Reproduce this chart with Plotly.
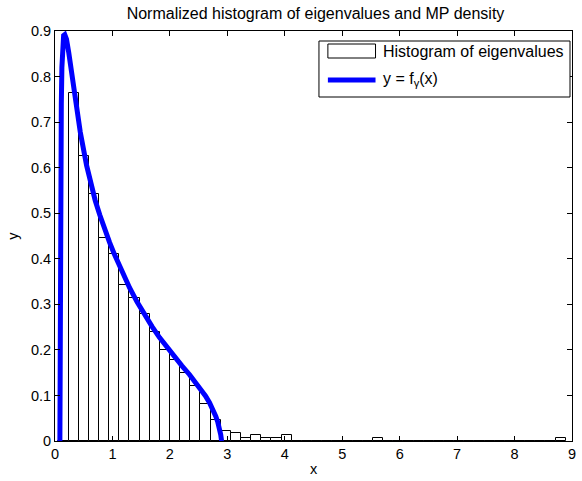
import plotly.graph_objects as go

# ---- data ----
bin_start = 0.06          # left edge of first histogram bin
bin_width = 0.1766        # width of each bin (50 bins)
hist_heights = [
    0.0, 0.763, 0.626, 0.542, 0.445, 0.410, 0.342, 0.313, 0.278, 0.239,
    0.199, 0.177, 0.149, 0.120, 0.081, 0.047, 0.023, 0.018, 0.006, 0.0125,
    0.006, 0.006, 0.0125, 0.0, 0.0, 0.0, 0.0, 0.0, 0.0, 0.0,
    0.0, 0.006, 0.0, 0.0, 0.0, 0.0, 0.0, 0.0, 0.0, 0.0,
    0.0, 0.0, 0.0, 0.0, 0.0, 0.0, 0.0, 0.0, 0.0, 0.006,
]
bin_centers = [bin_start + bin_width * (i + 0.5) for i in range(len(hist_heights))]

mp_x = [0.085, 0.088, 0.093, 0.100, 0.110, 0.120, 0.135, 0.150, 0.170, 0.200,
        0.240, 0.300, 0.350, 0.440, 0.550, 0.620, 0.700, 0.780, 0.850, 0.950,
        1.040, 1.170, 1.300, 1.430, 1.560, 1.690, 1.820, 1.950, 2.080, 2.210,
        2.340, 2.450, 2.540, 2.620, 2.690, 2.750, 2.800, 2.835, 2.865, 2.885,
        2.900]
mp_y = [0.000, 0.200, 0.400, 0.600, 0.740, 0.820, 0.870, 0.890, 0.892, 0.882,
        0.852, 0.795, 0.752, 0.678, 0.605, 0.567, 0.528, 0.496, 0.470, 0.436,
        0.408, 0.370, 0.336, 0.305, 0.277, 0.251, 0.227, 0.205, 0.184, 0.165,
        0.146, 0.129, 0.114, 0.099, 0.084, 0.069, 0.054, 0.041, 0.027, 0.014,
        0.000]

x_ticks = [0, 1, 2, 3, 4, 5, 6, 7, 8, 9]
y_ticks = [0, 0.1, 0.2, 0.3, 0.4, 0.5, 0.6, 0.7, 0.8, 0.9]

title_text = "Normalized histogram of eigenvalues and MP density"
legend_labels = ["Histogram of eigenvalues", "y = f<sub>γ</sub>(x)"]

FONT = "Liberation Sans, Arial, Helvetica, sans-serif"
W, H = 582, 481
L, R, T, B = 55, 6, 31, 40

fig = go.Figure()
fig.add_trace(go.Bar(
    x=bin_centers, y=hist_heights, width=bin_width,
    marker=dict(color="white", line=dict(color="black", width=1)),
    showlegend=False,
))
fig.add_trace(go.Scatter(
    x=mp_x, y=mp_y, mode="lines",
    line=dict(color="#0000ff", width=5),
    showlegend=False,
))

axis_common = dict(
    showline=True, linecolor="black", linewidth=1, mirror="allticks",
    ticks="inside", ticklen=5, tickcolor="black", tickwidth=1,
    showgrid=False, zeroline=False,
    tickfont=dict(family=FONT, size=14.5, color="black"),
)
fig.update_xaxes(range=[0, 9], tickvals=x_ticks,
                 title=dict(text="x", font=dict(family=FONT, size=14.5, color="black"), standoff=2),
                 **axis_common)
fig.update_yaxes(range=[0, 0.9], tickvals=y_ticks,
                 title=dict(text="y", font=dict(family=FONT, size=14.5, color="black"), standoff=8),
                 **axis_common)

pw, ph = W - L - R, H - T - B
def px(xp):
    return (xp - L) / pw
def py(yp):
    return (H - B - yp) / ph

# manual MATLAB-style legend
shapes = [
    dict(type="rect", xref="paper", yref="paper", x0=px(321), x1=px(574), y0=py(97), y1=py(41),
         line=dict(color="black", width=1), fillcolor="white", layer="above"),
    dict(type="rect", xref="paper", yref="paper", x0=px(330), x1=px(378), y0=py(58), y1=py(44),
         line=dict(color="black", width=1), fillcolor="white", layer="above"),
    dict(type="line", xref="paper", yref="paper", x0=px(330), x1=px(378), y0=py(80), y1=py(80),
         line=dict(color="#0000ff", width=5), layer="above"),
]
annotations = [
    dict(text=legend_labels[0], xref="paper", yref="paper", x=px(384), y=py(51),
         xanchor="left", yanchor="middle", showarrow=False,
         font=dict(family=FONT, size=16, color="black")),
    dict(text=legend_labels[1], xref="paper", yref="paper", x=px(384), y=py(79),
         xanchor="left", yanchor="middle", showarrow=False,
         font=dict(family=FONT, size=16, color="black")),
]

fig.update_layout(
    width=W, height=H,
    margin=dict(l=L, r=R, t=T, b=B),
    paper_bgcolor="white", plot_bgcolor="white",
    bargap=0,
    title=dict(text=title_text, x=(L + pw / 2) / W, xanchor="center", y=1 - 13 / H, yanchor="middle",
               font=dict(family=FONT, size=16, color="black")),
    shapes=shapes, annotations=annotations,
)

fig.write_html("out.html", config={"displayModeBar": False},
               post_script="document.body.style.margin='0';document.body.style.overflow='hidden';")
